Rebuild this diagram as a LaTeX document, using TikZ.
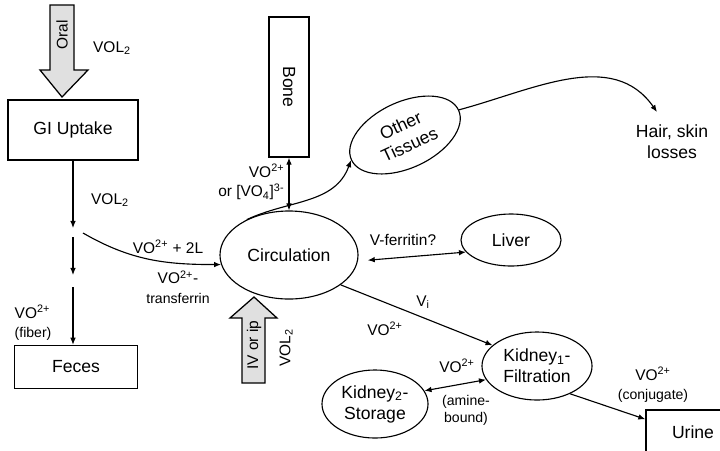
\documentclass[tikz,border=0pt]{standalone}
\usepackage{fontspec}
\setmainfont{Liberation Sans}
\usepackage{tikz}
\usetikzlibrary{arrows.meta, shapes.geometric}
\newcommand{\smalltxt}{\fontsize{10}{12}\selectfont}

\begin{document}
\begin{tikzpicture}[x=0.025cm, y=0.025cm,
    every node/.style={font=\fontsize{11}{14}\selectfont},
    box/.style={draw, line width=0.9pt, inner sep=0pt, font=\fontsize{12.5}{14}\selectfont},
    oval/.style={draw, ellipse, line width=0.8pt, inner sep=0pt, align=center, font=\fontsize{12.5}{15}\selectfont},
    lbl/.style={inner sep=1pt},
    flow/.style={-{Latex[length=5pt,width=4pt]}, line width=0.8pt},
    both/.style={{Latex[length=5pt,width=4pt]}-{Latex[length=5pt,width=4pt]}, line width=0.8pt},
    bigarrow/.style={draw, line width=0.9pt, fill=black!12}]
  \path[use as bounding box, fill=white] (0,0) rectangle (720,-450);

  % boxes
  \node[box, minimum width=3.25cm, minimum height=1.5cm] (gi) at (73,-130) {GI Uptake};
  \node[box, minimum width=3.08cm, minimum height=1.08cm] (feces) at (76,-367) {Feces};
  \node[box, minimum width=1cm, minimum height=3.5cm] (bone) at (289,-87) {\rotatebox{-90}{Bone}};
  \node[box, minimum width=2.35cm, minimum height=1.1cm] (urine) at (693,-432) {Urine};

  % compartments
  \node[oval, minimum width=3.45cm, minimum height=2.2cm] (circ) at (289,-255) {Circulation};
  \node[oval, minimum width=2.95cm, minimum height=1.65cm, rotate=25] (other) at (405,-135) {Other\\Tissues};
  \node[oval, minimum width=2.5cm, minimum height=1.3cm] (liver) at (511,-240) {Liver};
  \node[oval, minimum width=2.75cm, minimum height=1.7cm] (kid1) at (537,-366) {Kidney\textsubscript{1}-\\Filtration};
  \node[oval, minimum width=2.65cm, minimum height=1.7cm] (kid2) at (375,-404) {Kidney\textsubscript{2}-\\Storage};
  \node[align=center, font=\fontsize{12.5}{15}\selectfont] (hair) at (672,-142) {Hair, skin\\losses};

  % dosing routes
  \draw[bigarrow] (50,-5) -- (74,-5) -- (74,-70) -- (88,-70) -- (62,-97) -- (40,-70) -- (50,-70) -- cycle;
  \node[rotate=90] (oral) at (62,-35) {Oral};
  \node[lbl] (oralvol) at (112,-48) {VOL\textsubscript{2}};
  \draw[bigarrow] (242,-383) -- (265,-383) -- (265,-318) -- (277,-318) -- (254,-297) -- (230,-318) -- (242,-318) -- cycle;
  \node[rotate=90] (iv) at (254,-345) {IV or ip};
  \node[rotate=90, lbl] (ivvol) at (286,-348) {VOL\textsubscript{2}};

  % gut
  \coordinate (j1) at (73,-228);
  \coordinate (j2) at (73,-237);
  \coordinate (j3) at (73,-275);
  \coordinate (j4) at (73,-287);
  \coordinate (jc) at (83,-233);
  \coordinate (hairtip) at (657,-112);
  \draw[flow] (gi.south) -- (j1);
  \draw[flow] (j2) -- (j3);
  \draw[flow] (j4) -- (j4 |- feces.north);
  \draw[flow] (jc) to[out=-30, in=180] (circ.188);

  % exchange with circulation
  \draw[both] (bone.south) -- (circ.north);
  \draw[flow] (circ.140) to[out=25, in=-110] (other.west);
  \draw[flow] (other.east) to[out=15, in=125] (hairtip);
  \draw[both, shorten <=7pt] (circ.-5) -- (liver.195);
  \draw[flow] (circ.-30) -- (kid1.155);
  \draw[both] (kid1.195) -- (kid2.15);
  \draw[flow] (kid1.-40) -- (urine.165);

  % labels
  \node[lbl] (lvol) at (110,-200) {VOL\textsubscript{2}};
  \node[lbl] (l2l) at (168,-247) {VO\textsuperscript{2+} + 2L};
  \node[lbl, align=center] (ltrans) at (178,-287) {VO\textsuperscript{2+}-\\{\smalltxt transferrin}};
  \node[lbl, align=left, anchor=west] (lfiber) at (13,-323) {VO\textsuperscript{2+}\\{\smalltxt (fiber)}};
  \node[lbl, align=right, anchor=east] (lbone) at (286,-182) {VO\textsuperscript{2+}\\or [VO\textsubscript{4}]\textsuperscript{3-}};
  \node[lbl] (lferr) at (403,-240) {V-ferritin?};
  \node[lbl] (lvi) at (423,-302) {V\textsubscript{i}};
  \node[lbl] (lvo) at (385,-329) {VO\textsuperscript{2+}};
  \node[lbl] (lk) at (457,-366) {VO\textsuperscript{2+}};
  \node[lbl, align=center, font=\smalltxt] (lamine) at (466,-410) {(amine-\\bound)};
  \node[lbl, align=center] (lconj) at (653,-385) {VO\textsuperscript{2+}\\{\smalltxt (conjugate)}};
\end{tikzpicture}
\end{document}
